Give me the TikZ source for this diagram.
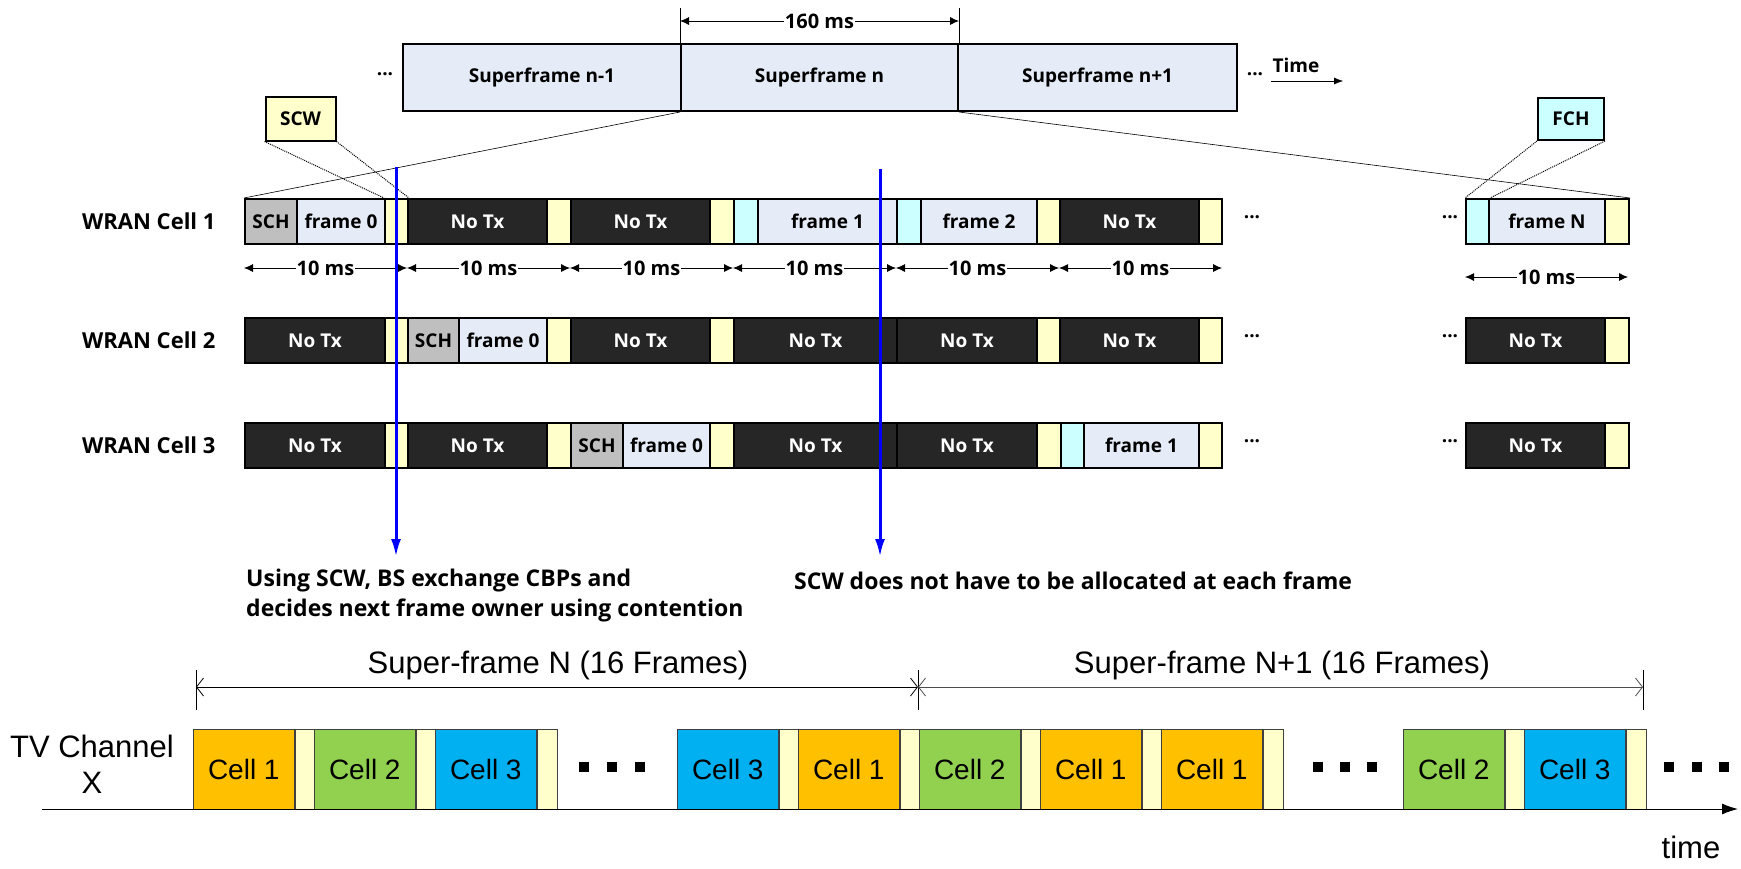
\documentclass[tikz,border=0pt]{standalone}
\usepackage{fontspec}
\setmainfont{Liberation Sans}
\newfontfamily\mgfont{Open Sans}
\usetikzlibrary{arrows.meta}
\newcommand{\lbl}{\mgfont\bfseries\fontsize{19}{22}\selectfont}
\newcommand{\rowtxt}{\mgfont\bfseries\fontsize{22}{26}\selectfont}
\newcommand{\mstxt}{\mgfont\bfseries\fontsize{20}{24}\selectfont}
\newcommand{\notetxt}{\mgfont\bfseries\fontsize{23}{30}\selectfont}
\newcommand{\bigtxt}{\fontsize{31}{36}\selectfont}
\newcommand{\celltxt}{\fontsize{28}{30}\selectfont}
\definecolor{cFrame}{RGB}{230,236,247}
\definecolor{cSCW}{RGB}{255,255,204}
\definecolor{cFCH}{RGB}{204,255,255}
\definecolor{cSCH}{RGB}{191,191,191}
\definecolor{cNoTx}{RGB}{38,38,38}
\definecolor{cOne}{RGB}{255,192,0}
\definecolor{cTwo}{RGB}{146,208,80}
\definecolor{cThree}{RGB}{0,176,240}
\tikzset{
  seg/.style={draw, line width=2pt, minimum height=45pt, inner sep=0pt, anchor=west, font=\lbl},
  sch/.style={seg, fill=cSCH},
  frm/.style={seg, fill=cFrame},
  scw/.style={seg, fill=cSCW},
  fch/.style={seg, fill=cFCH},
  notx/.style={seg, fill=cNoTx, text=white},
  sf/.style={seg, fill=cFrame, minimum height=67pt},
  tag/.style={draw, line width=2pt, minimum width=70pt, minimum height=44pt, font=\lbl},
  rowlbl/.style={anchor=east, font=\rowtxt},
  msl/.style={fill=white, inner sep=1pt, font=\mstxt},
  dim/.style={{Latex[length=9pt,width=8pt]}-{Latex[length=9pt,width=8pt]}, line width=0.8pt},
  sdim/.style={{Straight Barb[length=7pt,width=18pt]}-{Straight Barb[length=7pt,width=18pt]}, line width=0.8pt},
  bluearr/.style={blue, line width=3pt, -{Latex[length=18pt,width=10pt]}},
  cell/.style={draw=black!75, line width=0.6pt, minimum height=80pt, minimum width=101pt, inner sep=0pt, anchor=west, font=\celltxt},
  gap/.style={cell, fill=cSCW, minimum width=20pt}
}

\begin{document}
\begin{tikzpicture}[x=1pt,y=-1pt]
  \useasboundingbox (0,0) rectangle (1741,868);

  % superframes
  \node[sf, minimum width=278] (sfa) at (402,77.5) {Superframe n-1};
  \node[sf, minimum width=277] (sfb) at (680,77.5) {Superframe n};
  \node[sf, minimum width=279] (sfc) at (957,77.5) {Superframe n+1};
  \node[font=\lbl] (sfl) at (385,74) {...};
  \node[font=\lbl] (sfr) at (1255,74) {...};
  \node[font=\lbl] (tm) at (1296,65) {Time};
  \coordinate (tm0) at (1271,81);
  \coordinate (tm1) at (1343,81);
  \draw[-{Latex[length=9pt,width=7pt]}] (tm0) -- (tm1);
  \draw (sfb.north west) -- ++(0,-35) coordinate (ka);
  \draw (sfb.north east) -- ++(0,-35) coordinate (kb);
  \draw[dim] ([yshift=-13pt]ka) -- node[msl] {160 ms} ([yshift=-13pt]kb);

  % cell 1
  \node[rowlbl] (w1) at (219,221.5) {WRAN Cell 1};
  \foreach \x/\w/\s/\t [count=\i] in {244/52/sch/SCH, 296/88/frm/frame 0, 384/23/scw/{}, 407/139/notx/No Tx,
      546/24/scw/{}, 570/139/notx/No Tx, 709/24/scw/{}, 733/24/fch/{}, 757/139/frm/frame 1, 896/24/fch/{},
      920/116/frm/frame 2, 1036/23/scw/{}, 1059/139/notx/No Tx, 1198/23/scw/{}}
    \node[\s, minimum width=\w] (r1s\i) at (\x,221.5) {\t};
  \node[fch, minimum width=23] (r1f1) at (1465,221.5) {};
  \node[frm, minimum width=116] (r1f2) at (1488,221.5) {frame N};
  \node[scw, minimum width=24] (r1f3) at (1604,221.5) {};
  \node[font=\lbl] (d1a) at (1252,217) {...};
  \node[font=\lbl] (d1b) at (1450,217) {...};

  % cell 2
  \node[rowlbl] (w2) at (219,340.5) {WRAN Cell 2};
  \foreach \x/\w/\s/\t [count=\i] in {244/140/notx/No Tx, 384/23/scw/{}, 407/51/sch/SCH, 458/88/frm/frame 0,
      546/24/scw/{}, 570/139/notx/No Tx, 709/24/scw/{}, 733/163/notx/No Tx, 896/140/notx/No Tx,
      1036/23/scw/{}, 1059/139/notx/No Tx, 1198/23/scw/{}}
    \node[\s, minimum width=\w] (r2s\i) at (\x,340.5) {\t};
  \node[notx, minimum width=139] (r2f1) at (1465,340.5) {No Tx};
  \node[scw, minimum width=24] (r2f2) at (1604,340.5) {};
  \node[font=\lbl] (d2a) at (1252,336) {...};
  \node[font=\lbl] (d2b) at (1450,336) {...};

  % cell 3
  \node[rowlbl] (w3) at (219,445.5) {WRAN Cell 3};
  \foreach \x/\w/\s/\t [count=\i] in {244/140/notx/No Tx, 384/23/scw/{}, 407/139/notx/No Tx, 546/24/scw/{},
      570/52/sch/SCH, 622/87/frm/frame 0, 709/24/scw/{}, 733/163/notx/No Tx, 896/140/notx/No Tx,
      1036/24/scw/{}, 1060/23/fch/{}, 1083/115/frm/frame 1, 1198/23/scw/{}}
    \node[\s, minimum width=\w] (r3s\i) at (\x,445.5) {\t};
  \node[notx, minimum width=139] (r3f1) at (1465,445.5) {No Tx};
  \node[scw, minimum width=24] (r3f2) at (1604,445.5) {};
  \node[font=\lbl] (d3a) at (1252,441) {...};
  \node[font=\lbl] (d3b) at (1450,441) {...};

  % zoom lines
  \draw[line width=0.6pt] (r1s1.north west) -- (sfb.south west);
  \draw[line width=0.6pt] (sfb.south east) -- (r1f3.north east);
  \node[tag, fill=cSCW] (scw) at (300.5,118.5) {SCW};
  \node[tag, fill=cFCH, minimum width=66pt, minimum height=42pt] (fch) at (1571,119) {FCH};
  \draw[densely dotted, line width=1pt] (scw.south west) -- (r1s3.north west);
  \draw[densely dotted, line width=1pt] (scw.south east) -- (r1s3.north east);
  \draw[densely dotted, line width=1pt] (fch.south west) -- (r1f1.north west);
  \draw[densely dotted, line width=1pt] (fch.south east) -- (r1f1.north east);

  % 10 ms
  \foreach \i in {0,...,6}
    \coordinate (t\i) at (244+163*\i,268);
  \foreach \i [evaluate=\i as \j using int(\i+1)] in {0,...,5}
    \draw[dim] (t\i) -- node[msl] {10 ms} (t\j);
  \coordinate (u0) at (1465,277);
  \coordinate (u1) at (1628,277);
  \draw[dim] (u0) -- node[msl] {10 ms} (u1);

  % notes
  \coordinate (b1) at (396,167);
  \coordinate (b1e) at (396,557);
  \coordinate (b2) at (880,169);
  \coordinate (b2e) at (880,557);
  \draw[bluearr] (b1) -- (b1e);
  \draw[bluearr] (b2) -- (b2e);
  \node[anchor=base west, align=left, font=\notetxt, inner sep=0pt] (n1) at (246,616)
    {Using SCW, BS exchange CBPs and\\decides next frame owner using contention};
  \node[anchor=base west, font=\notetxt, inner sep=0pt] (n2) at (794,589)
    {SCW does not have to be allocated at each frame};

  % TV channel
  \draw (196,670) -- (196,710);
  \draw (918,670) -- (918,710);
  \draw (1643,670) -- (1643,710);
  \coordinate (s0) at (196,687);
  \coordinate (s1) at (918,687);
  \coordinate (s2) at (1643,687);
  \draw[sdim] (s0) -- (s1);
  \draw[sdim, black!70] (s1) -- (s2);
  \node[font=\bigtxt, anchor=base] (sn) at (558,673) {Super-frame N (16 Frames)};
  \node[font=\bigtxt, anchor=base] (sn1) at (1282,673) {Super-frame N+1 (16 Frames)};
  \node[font=\bigtxt, align=center] (tv) at (92,764) {TV Channel\\X};
  \foreach \x/\c/\n [count=\i] in {193/cOne/1, 314/cTwo/2, 435/cThree/3, 677/cThree/3, 798/cOne/1,
      919/cTwo/2, 1040/cOne/1, 1161/cOne/1, 1403/cTwo/2, 1524/cThree/3}
  {
    \node[cell, fill=\c] (c\i) at (\x,769) {Cell \n};
    \node[gap] (g\i) at (c\i.east) {};
  }
  \foreach \x in {584,612,640,1318,1345,1372,1669,1697,1724}
    \fill (\x-5,762) rectangle +(10,10);
  \coordinate (ax0) at (42,809);
  \coordinate (ax1) at (1738,809);
  \draw[line width=1pt, -{Latex[length=16pt,width=11pt]}] (ax0) -- (ax1);
  \node[font=\bigtxt, anchor=base] (tl) at (1691,858) {time};
\end{tikzpicture}
\end{document}
